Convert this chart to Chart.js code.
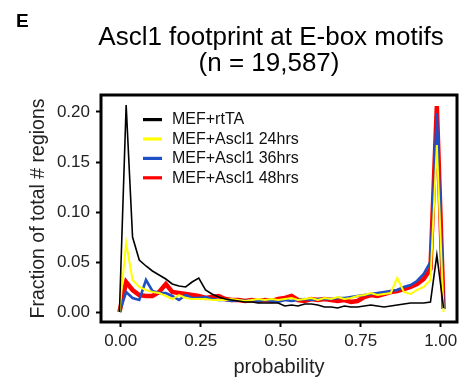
<!DOCTYPE html>
<html>
<head>
<meta charset="utf-8">
<script src="https://cdn.jsdelivr.net/npm/chart.js@4/dist/chart.umd.min.js"></script>
<style>
  html, body { margin: 0; padding: 0; background: #fff; }
  #wrap { width: 463px; height: 379px; position: relative; }
</style>
</head>
<body>
<div id="wrap"><canvas id="chart"></canvas></div>
<script>
// probability bins (x) and fraction of regions per condition
const probability = [-0.004, 0.017, 0.037, 0.058, 0.079, 0.099, 0.120, 0.141, 0.161, 0.182,
  0.203, 0.223, 0.244, 0.265, 0.285, 0.306, 0.327, 0.347, 0.368, 0.389,
  0.410, 0.430, 0.451, 0.472, 0.492, 0.513, 0.534, 0.554, 0.575, 0.596,
  0.616, 0.637, 0.658, 0.678, 0.699, 0.720, 0.740, 0.761, 0.782, 0.802,
  0.823, 0.844, 0.864, 0.885, 0.906, 0.926, 0.947, 0.968, 0.988, 1.009];

const rtTA = [0.000, 0.207, 0.075, 0.052, 0.046, 0.041, 0.037, 0.033, 0.028, 0.026,
  0.025, 0.030, 0.034, 0.022, 0.018, 0.015, 0.013, 0.012, 0.011, 0.010,
  0.010, 0.009, 0.009, 0.009, 0.009, 0.006, 0.007, 0.006, 0.008, 0.008,
  0.007, 0.005, 0.005, 0.004, 0.006, 0.005, 0.005, 0.006, 0.007, 0.006,
  0.005, 0.006, 0.007, 0.008, 0.009, 0.009, 0.009, 0.010, 0.057, 0.004];

const ascl24 = [0.000, 0.069, 0.032, 0.025, 0.022, 0.020, 0.019, 0.016, 0.013, 0.017,
  0.014, 0.013, 0.013, 0.013, 0.012, 0.012, 0.012, 0.013, 0.012, 0.011,
  0.012, 0.013, 0.012, 0.013, 0.012, 0.013, 0.014, 0.012, 0.013, 0.014,
  0.012, 0.014, 0.013, 0.015, 0.013, 0.014, 0.016, 0.017, 0.019, 0.017,
  0.018, 0.019, 0.034, 0.020, 0.018, 0.022, 0.025, 0.032, 0.167, 0.000];

const ascl36 = [0.000, 0.020, 0.014, 0.012, 0.032, 0.021, 0.019, 0.019, 0.016, 0.012,
  0.017, 0.014, 0.014, 0.015, 0.013, 0.012, 0.012, 0.011, 0.012, 0.011,
  0.012, 0.011, 0.012, 0.011, 0.010, 0.012, 0.011, 0.012, 0.013, 0.012,
  0.013, 0.013, 0.013, 0.014, 0.014, 0.015, 0.016, 0.017, 0.018, 0.019,
  0.020, 0.021, 0.022, 0.025, 0.027, 0.031, 0.038, 0.050, 0.199, 0.003];

const ascl48 = [0.000, 0.030, 0.022, 0.017, 0.016, 0.016, 0.020, 0.028, 0.020, 0.019,
  0.018, 0.017, 0.016, 0.014, 0.015, 0.016, 0.013, 0.012, 0.012, 0.011,
  0.012, 0.011, 0.012, 0.011, 0.013, 0.014, 0.016, 0.012, 0.011, 0.013,
  0.012, 0.013, 0.012, 0.011, 0.012, 0.010, 0.011, 0.015, 0.017, 0.016,
  0.018, 0.020, 0.021, 0.023, 0.025, 0.028, 0.033, 0.043, 0.206, 0.003];

const seriesNames = ['MEF+rtTA', 'MEF+Ascl1 24hrs', 'MEF+Ascl1 36hrs', 'MEF+Ascl1 48hrs'];
const xTicks = [0, 0.25, 0.5, 0.75, 1.0];
const yTicks = [0, 0.05, 0.10, 0.15, 0.20];

const FONT = 'Arial, "Liberation Sans", sans-serif';

function toPoints(values) {
  return values.map((v, i) => ({ x: probability[i], y: v }));
}

// titre, lettre du panneau, cadre et légende dans la zone du graphique
const decor = {
  id: 'decor',
  afterDraw(chart) {
    const ctx = chart.ctx;
    const area = chart.chartArea;
    ctx.save();

    ctx.fillStyle = '#000';
    ctx.textBaseline = 'middle';
    ctx.font = 'bold 19px ' + FONT;
    ctx.textAlign = 'left';
    ctx.fillText('E', 16, 22);

    ctx.font = '26px ' + FONT;
    ctx.textAlign = 'center';
    ctx.fillText('Ascl1 footprint at E-box motifs', 271, 38);
    ctx.fillText('(n = 19,587)', 269, 64);

    ctx.strokeStyle = '#000';
    ctx.lineWidth = 3;
    ctx.strokeRect(area.left, area.top, area.right - area.left, area.bottom - area.top);

    // légende
    ctx.font = '16px ' + FONT;
    ctx.textAlign = 'left';
    chart.data.datasets.forEach((ds, i) => {
      const y = 119.5 + i * 19.4;
      ctx.fillStyle = ds.borderColor;
      ctx.fillRect(143, y - 1.5, 19, 3.2);
      ctx.fillStyle = '#111';
      ctx.fillText(ds.label, 172, y + 0.5);
    });
    ctx.restore();
  }
};

const ctx = document.getElementById('chart');

new Chart(ctx, {
  type: 'line',
  data: {
    datasets: [
      { label: seriesNames[0], data: toPoints(rtTA), borderColor: '#000000', borderWidth: 1.6 },
      { label: seriesNames[1], data: toPoints(ascl24), borderColor: '#FFFF00', borderWidth: 2 },
      { label: seriesNames[2], data: toPoints(ascl36), borderColor: '#1F4FC4', borderWidth: 2.6 },
      { label: seriesNames[3], data: toPoints(ascl48), borderColor: '#FF0000', borderWidth: 4.5 }
    ]
  },
  options: {
    responsive: true,
    maintainAspectRatio: false,
    animation: false,
    layout: { padding: { left: 0, right: 6, top: 95, bottom: 0 } },
    elements: {
      point: { radius: 0 },
      line: { tension: 0, fill: false }
    },
    plugins: {
      legend: { display: false },
      title: { display: false },
      tooltip: { enabled: false }
    },
    scales: {
      x: {
        type: 'linear',
        min: -0.0616,
        max: 1.051,
        afterBuildTicks: (scale) => { scale.ticks = xTicks.map(v => ({ value: v })); },
        afterFit: (scale) => { scale.height = 57; },
        border: { display: false },
        grid: {
          drawOnChartArea: false,
          drawTicks: true,
          tickLength: 5,
          tickWidth: 2,
          tickColor: '#000'
        },
        ticks: {
          autoSkip: false,
          maxRotation: 0,
          padding: 4,
          color: '#222',
          font: { family: FONT, size: 17 },
          callback: (v) => Number(v).toFixed(2)
        },
        title: {
          display: true,
          text: 'probability',
          color: '#222',
          font: { family: FONT, size: 20 },
          padding: { top: 0, bottom: 0 }
        }
      },
      y: {
        min: -0.01,
        max: 0.217,
        afterBuildTicks: (scale) => { scale.ticks = yTicks.map(v => ({ value: v })); },
        afterFit: (scale) => { scale.width = 101; },
        border: { display: false },
        grid: {
          drawOnChartArea: false,
          drawTicks: true,
          tickLength: 5,
          tickWidth: 2,
          tickColor: '#000'
        },
        ticks: {
          padding: 6,
          color: '#222',
          font: { family: FONT, size: 17 },
          callback: (v) => Number(v).toFixed(2)
        },
        title: {
          display: true,
          text: 'Fraction of total # regions',
          color: '#222',
          font: { family: FONT, size: 19.5 },
          padding: { top: 27, bottom: 0 }
        }
      }
    }
  },
  plugins: [decor]
});
</script>
</body>
</html>
